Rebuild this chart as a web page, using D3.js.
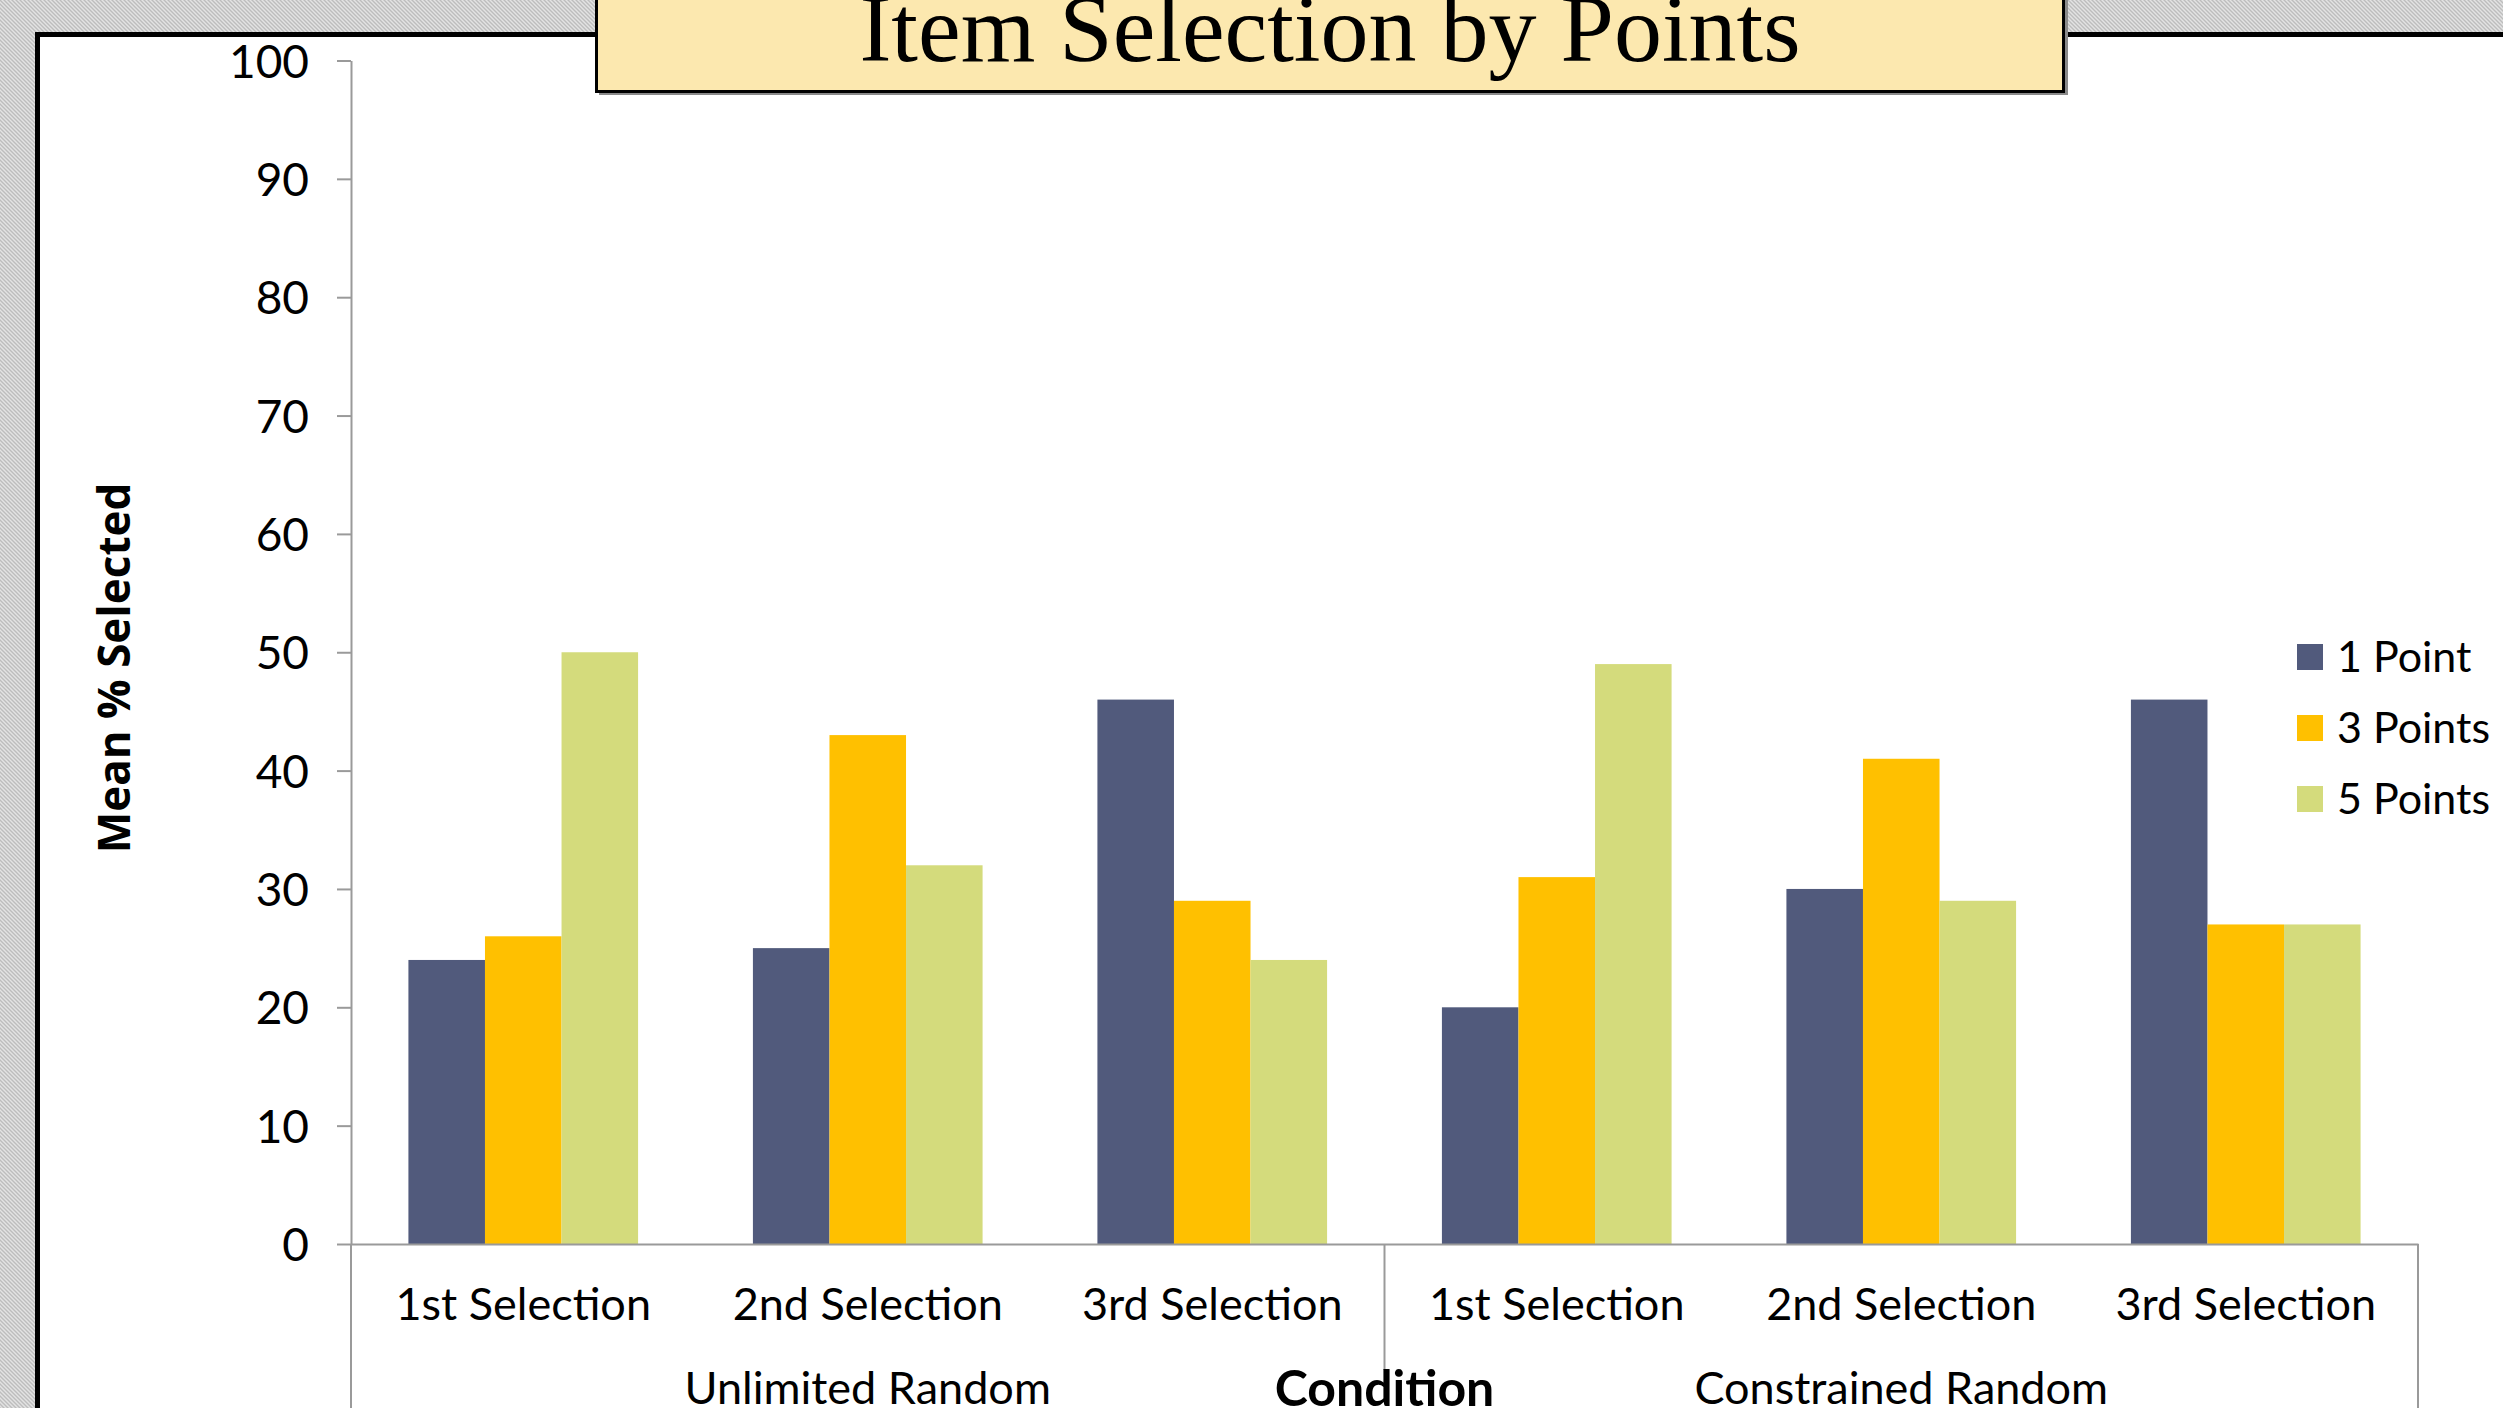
<!DOCTYPE html>
<html>
<head>
<meta charset="utf-8">
<script src="https://cdn.jsdelivr.net/npm/d3@7/dist/d3.min.js"></script>
<style>
  html, body { margin: 0; padding: 0; background: #e4e4e4; overflow: hidden; }
  svg { display: block; }
</style>
</head>
<body>
<svg id="chart" width="2503" height="1408"></svg>
<script>
// Condition groups and the selection order inside each group
const groups = ["Unlimited Random", "Constrained Random"];
const selections = ["1st Selection", "2nd Selection", "3rd Selection"];

// Series (point value of the item) and their mean % selected per category
const seriesNames = ["1 Point", "3 Points", "5 Points"];
const onePoint    = [24, 25, 46, 20, 30, 46];
const threePoints = [26, 43, 29, 31, 41, 27];
const fivePoints  = [50, 32, 24, 49, 29, 27];
const seriesColors = ["#515a7c", "#ffc000", "#d4db7c"];

const yTicks = [0, 10, 20, 30, 40, 50, 60, 70, 80, 90, 100];
const yLabel = "Mean % Selected";
const xLabel = "Condition";
const title = "Item Selection by Points";

// Flattened category list (group, selection)
const categories = [];
groups.forEach((g, gi) => selections.forEach((s, si) => categories.push({ key: gi + "-" + si, group: g, label: s })));
const seriesValues = [onePoint, threePoints, fivePoints];

const W = 2503, H = 1408;
const svg = d3.select("#chart");

// Hatched slide background
const defs = svg.append("defs");
const pat = defs.append("pattern")
  .attr("id", "hatch").attr("width", 4).attr("height", 4)
  .attr("patternUnits", "userSpaceOnUse");
pat.append("rect").attr("width", 4).attr("height", 4).attr("fill", "#e3e3e3");
pat.append("path").attr("d", "M0,0 L4,4 M-1,3 L1,5 M3,-1 L5,1")
  .attr("stroke", "#bdbdbd").attr("stroke-width", 1.4);
svg.append("rect").attr("width", W).attr("height", H).attr("fill", "url(#hatch)");

// White chart panel with a heavy black frame
svg.append("rect")
  .attr("x", 37.5).attr("y", 34.5)
  .attr("width", W + 20).attr("height", H + 20)
  .attr("fill", "#ffffff").attr("stroke", "#000").attr("stroke-width", 5);

// Plot area
const plotLeft = 351, plotRight = 2418, plotTop = 60.5, plotBottom = 1244;

const x0 = d3.scaleBand().domain(categories.map(d => d.key)).range([plotLeft, plotRight]).paddingInner(0).paddingOuter(0);
const x1 = d3.scaleBand().domain(seriesNames).range([0, x0.bandwidth()]).paddingInner(0).paddingOuter(0.75);
const y = d3.scaleLinear().domain([0, 100]).range([plotBottom, plotTop]);
const color = d3.scaleOrdinal().domain(seriesNames).range(seriesColors);

const axisColor = "#9a9a9a";
const font = "Lato, 'Open Sans', sans-serif";

// Bars
const bars = svg.append("g");
categories.forEach((c, ci) => {
  const g = bars.append("g").attr("transform", `translate(${x0(c.key)},0)`);
  g.selectAll("rect")
    .data(seriesNames.map((s, si) => ({ s, v: seriesValues[si][ci] })))
    .join("rect")
    .attr("x", d => x1(d.s))
    .attr("width", x1.bandwidth())
    .attr("y", d => y(d.v))
    .attr("height", d => y(0) - y(d.v))
    .attr("fill", d => color(d.s));
});

// Y axis
const yAxis = svg.append("g")
  .attr("transform", `translate(${plotLeft},0)`)
  .call(d3.axisLeft(y).tickValues(yTicks).tickSize(14).tickSizeOuter(0).tickPadding(28));
yAxis.select(".domain").attr("stroke", axisColor).attr("stroke-width", 2);
yAxis.selectAll(".tick line").attr("stroke", axisColor).attr("stroke-width", 2);
yAxis.selectAll(".tick text")
  .attr("fill", "#000").attr("font-family", font).attr("font-size", 46)
  .attr("dy", "0.36em");

// X axis: selection labels
const xAxis = svg.append("g")
  .attr("transform", `translate(0,${plotBottom})`)
  .call(d3.axisBottom(x0).tickSize(0).tickSizeOuter(0)
    .tickFormat(k => categories.find(c => c.key === k).label));
xAxis.select(".domain").attr("stroke", axisColor).attr("stroke-width", 2);
xAxis.selectAll(".tick text")
  .attr("fill", "#000").attr("font-family", font).attr("font-size", 45)
  .attr("y", 76).attr("dy", 0);

// Group dividers running down from the category axis
const groupEdges = [plotLeft, (plotLeft + plotRight) / 2, plotRight];
svg.append("g").selectAll("line").data(groupEdges).join("line")
  .attr("x1", d => d).attr("x2", d => d)
  .attr("y1", plotBottom).attr("y2", H + 5)
  .attr("stroke", axisColor).attr("stroke-width", 2);

// Group labels
const groupWidth = (plotRight - plotLeft) / groups.length;
svg.append("g").selectAll("text").data(groups).join("text")
  .attr("x", (d, i) => plotLeft + groupWidth * (i + 0.5))
  .attr("y", 1404)
  .attr("text-anchor", "middle")
  .attr("font-family", font).attr("font-size", 45).attr("fill", "#000")
  .text(d => d);

// Axis title "Condition" sits on a white box over the centre divider
const cx = (plotLeft + plotRight) / 2;
svg.append("rect").attr("x", cx - 118).attr("y", 1370).attr("width", 236).attr("height", 50).attr("fill", "#fff");
svg.append("text")
  .attr("x", cx).attr("y", 1406)
  .attr("text-anchor", "middle")
  .attr("font-family", font).attr("font-weight", "bold").attr("font-size", 50).attr("fill", "#000")
  .text(xLabel);

// Y axis title
svg.append("text")
  .attr("transform", "translate(130,668) rotate(-90)")
  .attr("text-anchor", "middle")
  .attr("font-family", "'Open Sans', sans-serif").attr("font-weight", "bold").attr("font-size", 44).attr("fill", "#000")
  .text(yLabel);

// Legend
const legend = svg.append("g").attr("transform", "translate(2297,644)");
const li = legend.selectAll("g").data(seriesNames).join("g")
  .attr("transform", (d, i) => `translate(0,${i * 71})`);
li.append("rect").attr("width", 26).attr("height", 26).attr("fill", d => color(d));
li.append("text")
  .attr("x", 40).attr("y", 13).attr("dy", "0.36em")
  .attr("font-family", font).attr("font-size", 43).attr("fill", "#000")
  .text(d => d);

// Title banner
svg.append("rect")
  .attr("x", 599).attr("y", -10).attr("width", 1469).attr("height", 105)
  .attr("fill", "#8a8a8a");
svg.append("rect")
  .attr("x", 596.5).attr("y", -10).attr("width", 1467).attr("height", 101.5)
  .attr("fill", "#fce8af").attr("stroke", "#000").attr("stroke-width", 3);
svg.append("text")
  .attr("x", 1330).attr("y", 61)
  .attr("text-anchor", "middle")
  .attr("font-family", "'Liberation Serif', 'Times New Roman', serif")
  .attr("font-size", 96).attr("fill", "#000")
  .text(title);
</script>
</body>
</html>
